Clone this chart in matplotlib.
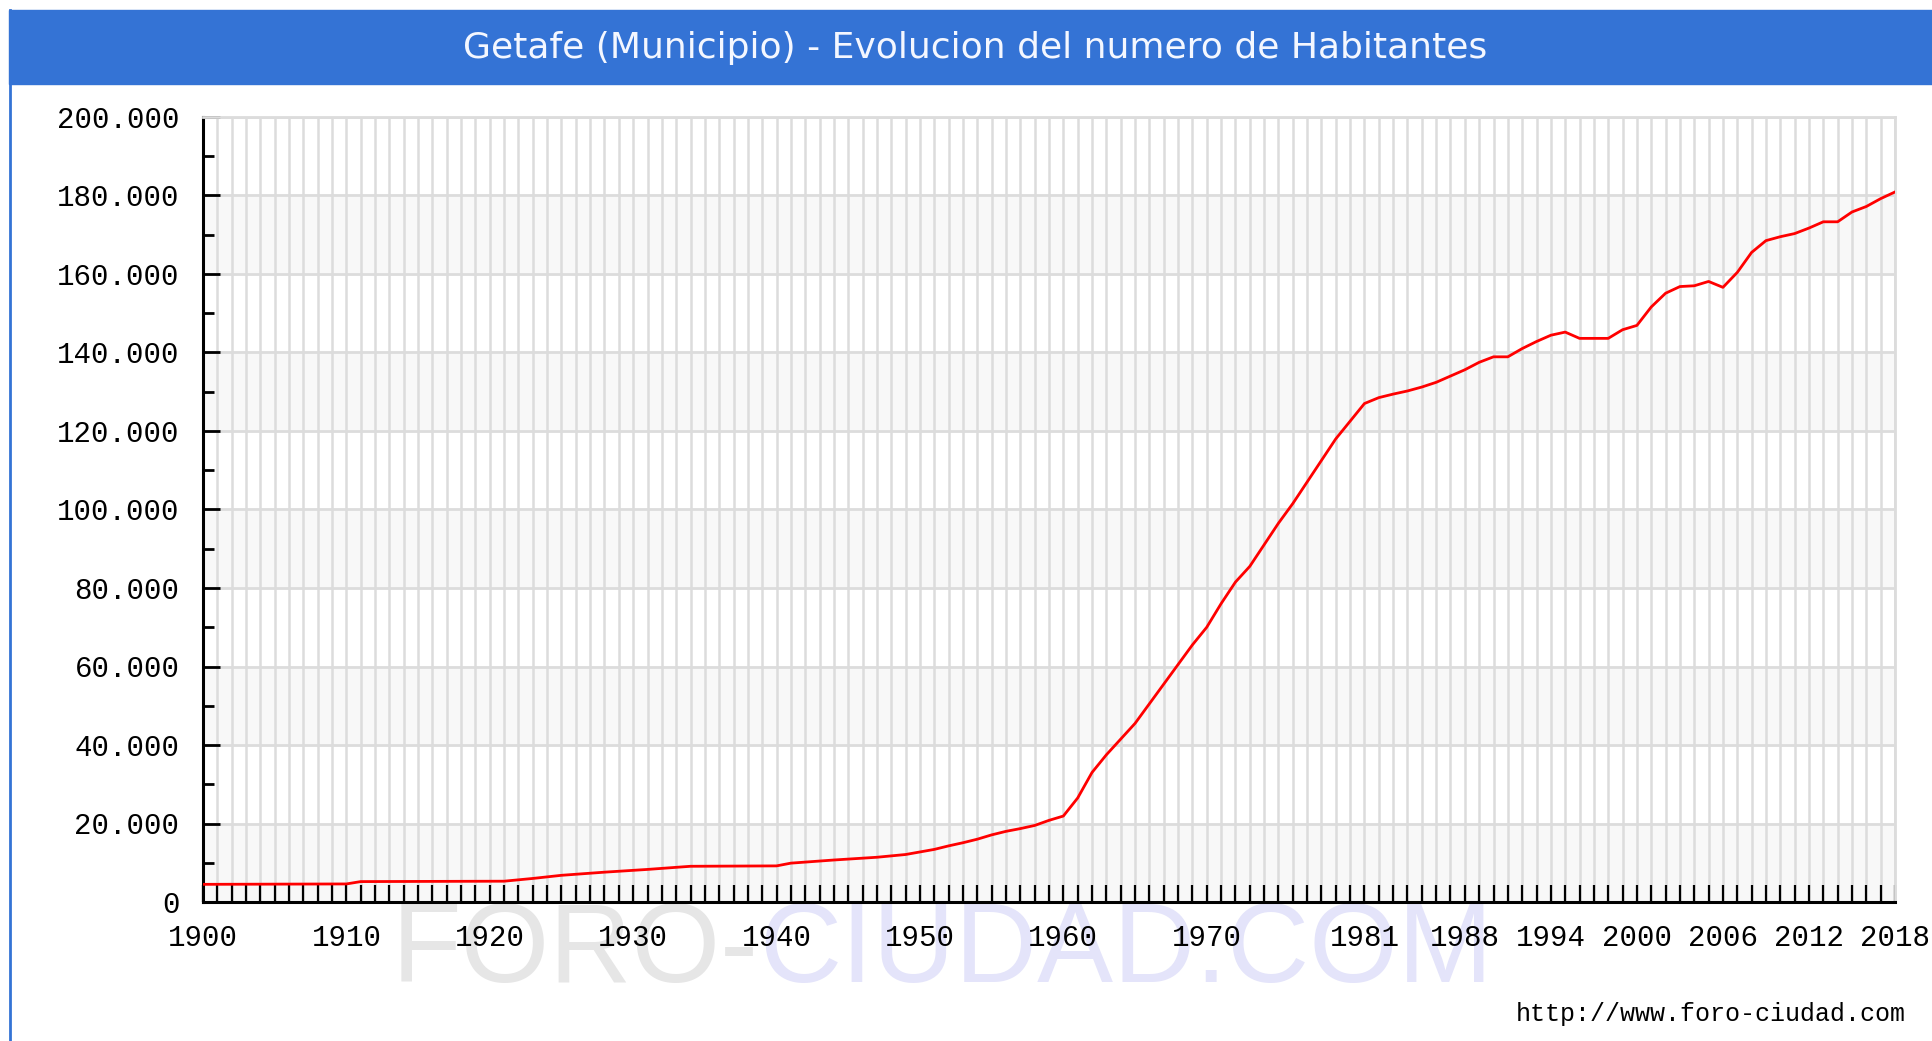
import matplotlib
matplotlib.use('Agg')
import matplotlib.pyplot as plt
from matplotlib.patches import Rectangle
from matplotlib.lines import Line2D
from matplotlib.text import Annotation
from matplotlib.ticker import FixedLocator, MultipleLocator, FuncFormatter

# population
YEARS = [1900, 1910, 1911, 1921, 1923, 1925, 1928, 1931, 1934, 1940,
         1941, 1944, 1947, 1949, 1951, 1952, 1953, 1954, 1955, 1956,
         1957, 1958, 1959, 1960, 1961, 1962, 1963, 1964, 1965, 1966,
         1967, 1968, 1969, 1970, 1971, 1972, 1973, 1974, 1975, 1976,
         1977, 1978, 1979, 1980, 1981, 1982, 1983, 1984, 1985, 1986,
         1987, 1988, 1989, 1990, 1991, 1992, 1993, 1994, 1995, 1996,
         1997, 1998, 1999, 2000, 2001, 2002, 2003, 2004, 2005, 2006,
         2007, 2008, 2009, 2010, 2011, 2012, 2013, 2014, 2015, 2016,
         2017, 2018]
HABITANTES = [4500, 4600, 5200, 5300, 6000, 6800, 7600, 8300, 9100, 9200,
              9900, 10700, 11400, 12100, 13400, 14300, 15100, 16000, 17100, 18000,
              18700, 19500, 20800, 21900, 26500, 33000, 37500, 41500, 45500, 50500,
              55500, 60500, 65500, 70000, 76000, 81500, 85500, 91000, 96500, 101500,
              107000, 112500, 118000, 122500, 127000, 128500, 129400, 130200, 131200, 132400,
              134000, 135600, 137500, 138900, 138900, 141000, 142800, 144400, 145200, 143600,
              143600, 143600, 145800, 146900, 151600, 155100, 156800, 157000, 158100, 156600,
              160400, 165500, 168500, 169500, 170300, 171700, 173300, 173300, 175800, 177200,
              179200, 180900]

LABEL_YEARS = [1900, 1910, 1920, 1930, 1940, 1950, 1960, 1970,
               1981, 1988, 1994, 2000, 2006, 2012, 2018]

TITLE = 'Getafe (Municipio) - Evolucion del numero de Habitantes'
BLUE = '#3473d5'
GRID = '#dcdcdc'

W, H = 1933, 1041
fig = plt.figure(figsize=(W / 100, H / 100), dpi=100)
fig.patch.set_facecolor('white')


def fx(px):
    return px / W


def fy(py):
    return 1 - py / H


# header bar + left border
fig.add_artist(Rectangle((fx(9), fy(84)), 1 - fx(9), 74 / H,
                         transform=fig.transFigure, color=BLUE, zorder=0))
fig.add_artist(Line2D([fx(10.5), fx(10.5)], [0, fy(10)],
                      transform=fig.transFigure, color=BLUE, lw=2))
fig.text(fx(975), fy(48), TITLE, color='#f4f7ff', fontsize=26,
         family='DejaVu Sans', ha='center', va='center')

# watermark
wm = fig.text(fx(392), fy(982), 'FORO-', color='#e6e6e6', fontsize=82,
              family='Liberation Sans', ha='left', va='baseline', zorder=-5)
fig.add_artist(Annotation('CIUDAD.COM', xy=(1, 0), xycoords=wm,
                          color='#e4e4fa', fontsize=82, family='Liberation Sans',
                          ha='left', va='bottom', annotation_clip=False, zorder=-5))

fig.text(fx(1906), fy(1021), 'http://www.foro-ciudad.com', fontsize=18,
         family='Liberation Mono', ha='right', va='baseline', color='black')

ax = fig.add_axes([fx(203), fy(902), fx(1895) - fx(203), (902 - 117) / H])

# alternating bands
for lo in range(0, 200000, 40000):
    ax.axhspan(lo, lo + 20000, color='#f8f8f8', zorder=0.1, lw=0)

ax.plot(YEARS, HABITANTES, color='red', lw=2.0, zorder=3)

ax.set_xlim(1900, 2018)
ax.set_ylim(0, 200000)

ax.xaxis.set_major_locator(FixedLocator(LABEL_YEARS))
ax.xaxis.set_minor_locator(MultipleLocator(1))
ax.yaxis.set_major_locator(MultipleLocator(20000))
ax.yaxis.set_minor_locator(MultipleLocator(10000))
ax.yaxis.set_major_formatter(FuncFormatter(lambda v, p: f'{int(v):,}'.replace(',', '.')))

ax.set_axisbelow(True)
ax.grid(axis='x', which='both', color=GRID, lw=1.8)
ax.grid(axis='y', which='major', color=GRID, lw=2)

ax.tick_params(axis='x', which='both', direction='in', length=12, width=1.6,
               color='black', pad=16, labelsize=21)
ax.tick_params(axis='y', which='major', direction='in', length=12, width=2,
               color='black', pad=17, labelsize=21)
ax.tick_params(axis='y', which='minor', direction='in', length=8, width=2,
               color='black')
for lbl in ax.get_xticklabels() + ax.get_yticklabels():
    lbl.set_family('Liberation Mono')

for side in ['left', 'bottom']:
    ax.spines[side].set_color('black')
    ax.spines[side].set_linewidth(2.2)
for side in ['top', 'right']:
    ax.spines[side].set_color(GRID)
    ax.spines[side].set_linewidth(2)

fig.savefig('out.png', dpi=100)
